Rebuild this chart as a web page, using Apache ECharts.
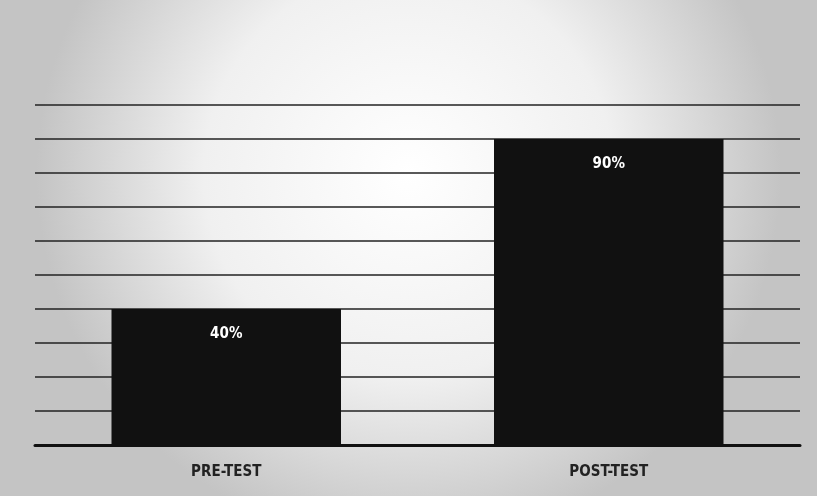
<!DOCTYPE html>
<html><head><meta charset="utf-8">
<script src="https://cdn.jsdelivr.net/npm/echarts@6/dist/echarts.min.js"></script>
<style>html,body{margin:0;padding:0;}#c{width:817px;height:496px;}</style>
</head><body><div id="c"></div>
<script>
const categories = ["PRE-TEST", "POST-TEST"];
const values = [40, 90];
const valueLabels = ["40%", "90%"];

const chart = echarts.init(document.getElementById('c'));
chart.setOption({
  backgroundColor: {
    type: 'radial', x: 0.5, y: 0.35, r: 0.75,
    colorStops: [{offset: 0, color: '#ffffff'}, {offset: 0.55, color: '#f0f0f0'}, {offset: 1, color: '#c4c4c4'}]
  },
  animation: false,
  grid: {left: 35, right: 17, top: 105, bottom: 51},
  xAxis: {
    type: 'category', data: categories,
    axisLine: {lineStyle: {color: '#111', width: 3}},
    axisTick: {show: false},
    axisLabel: {color: '#222', fontWeight: 'bold', fontSize: 15, margin: 20,
      fontFamily: '"Liberation Sans Narrow", "DejaVu Sans Condensed", sans-serif'}
  },
  yAxis: {
    type: 'value', min: 0, max: 100, interval: 10,
    axisLabel: {show: false}, axisLine: {show: false}, axisTick: {show: false},
    splitLine: {lineStyle: {color: '#222', width: 1.5}}
  },
  series: [{
    type: 'bar', data: values, barWidth: '60%',
    itemStyle: {color: '#111'},
    label: {show: true, position: 'insideTop', distance: 18, color: '#fff', fontWeight: 'bold', fontSize: 15,
      fontFamily: '"Liberation Sans Narrow", "DejaVu Sans Condensed", sans-serif',
      formatter: p => valueLabels[p.dataIndex]}
  }]
});
</script></body></html>
